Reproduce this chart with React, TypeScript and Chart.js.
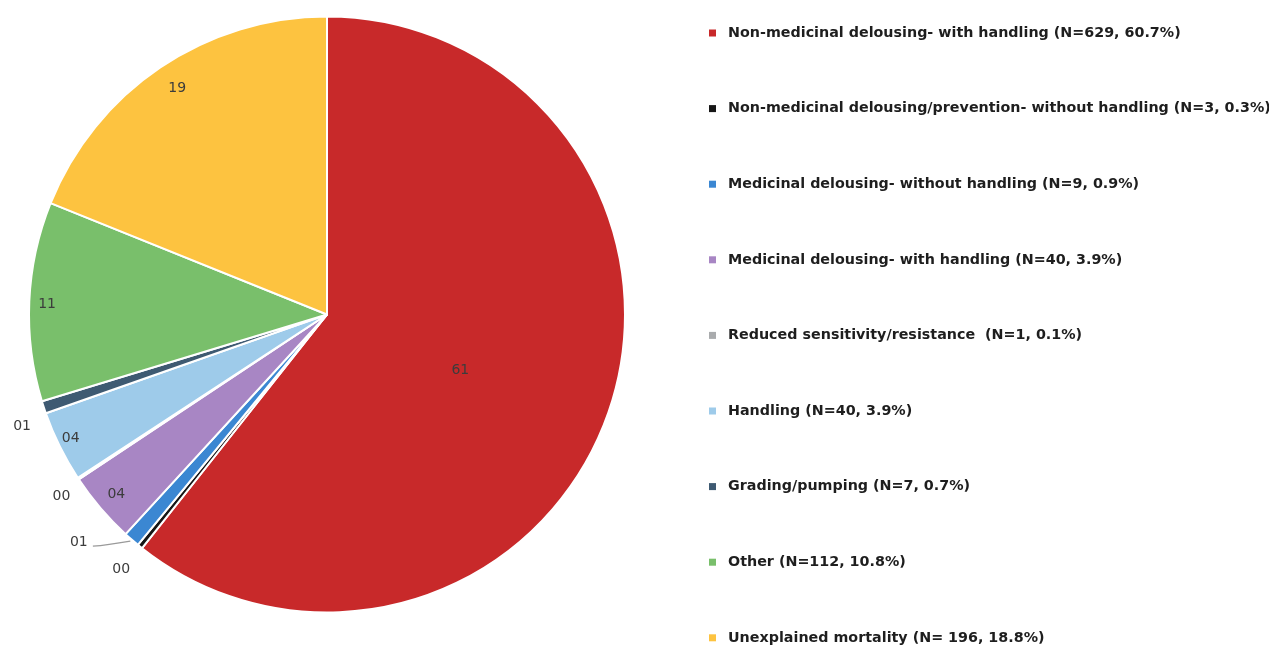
import React, { useEffect, useRef } from "react";
import { Chart, registerables } from "chart.js";

Chart.register(...registerables);

const categories = [
  "Non-medicinal delousing- with handling (N=629, 60.7%)",
  "Non-medicinal delousing/prevention- without handling (N=3, 0.3%)",
  "Medicinal delousing- without handling (N=9, 0.9%)",
  "Medicinal delousing- with handling (N=40, 3.9%)",
  "Reduced sensitivity/resistance  (N=1, 0.1%)",
  "Handling (N=40, 3.9%)",
  "Grading/pumping (N=7, 0.7%)",
  "Other (N=112, 10.8%)",
  "Unexplained mortality (N= 196, 18.8%)",
];
const counts = [629, 3, 9, 40, 1, 40, 7, 112, 196];
const colors = [
  "#C8292A",
  "#161616",
  "#3B87D2",
  "#A886C4",
  "#A9ABAD",
  "#9ECBEA",
  "#3E5A72",
  "#79BF6B",
  "#FDC340",
];

// label placement: radial factor and angular offset (degrees)
const labelPlacement = [
  { r: 0.485, off: 3.5 },
  { r: 1.1, off: 0 },
  { r: 1.13, off: 6.5 },
  { r: 0.93, off: 0 },
  { r: 1.08, off: -1 },
  { r: 0.955, off: 0.5 },
  { r: 1.09, off: -2 },
  { r: 0.94, off: -0.5 },
  { r: 0.91, off: 0.5 },
];

const labelPlugin = {
  id: "sliceLabels",
  afterDatasetsDraw(chart: any) {
    const ctx = chart.ctx;
    const meta = chart.getDatasetMeta(0);
    const data = chart.data.datasets[0].data as number[];
    const total = data.reduce((a, b) => a + b, 0);
    ctx.save();
    ctx.font = "14px 'DejaVu Sans'";
    ctx.fillStyle = "#3c3c3c";
    ctx.textAlign = "center";
    ctx.textBaseline = "middle";
    meta.data.forEach((arc: any, i: number) => {
      const p = labelPlacement[i];
      const mid = (arc.startAngle + arc.endAngle) / 2 + (p.off * Math.PI) / 180;
      const R = arc.outerRadius;
      const x = arc.x + Math.cos(mid) * R * p.r;
      const y = arc.y + Math.sin(mid) * R * p.r;
      const pct = Math.round((data[i] / total) * 100);
      const txt = String(pct).padStart(2, "0");
      ctx.fillText(txt, x, y);
      if (i === 2) {
        const am = (arc.startAngle + arc.endAngle) / 2;
        const ex = arc.x + Math.cos(am) * (R + 2);
        const ey = arc.y + Math.sin(am) * (R + 2);
        ctx.strokeStyle = "#9a9a9a";
        ctx.lineWidth = 1.2;
        ctx.beginPath();
        ctx.moveTo(x + 14, y + 4);
        ctx.quadraticCurveTo(x + 28, y + 3, ex, ey);
        ctx.stroke();
      }
    });
    ctx.restore();
  },
};

const legendPlugin = {
  id: "customLegend",
  afterDraw(chart: any) {
    const ctx = chart.ctx;
    const labels = chart.data.labels as string[];
    const bg = chart.data.datasets[0].backgroundColor as string[];
    ctx.save();
    ctx.font = "bold 14.3px 'DejaVu Sans'";
    ctx.textBaseline = "middle";
    ctx.textAlign = "left";
    const y0 = 33;
    const step = 75.6;
    labels.forEach((lab, i) => {
      const y = y0 + i * step;
      ctx.fillStyle = bg[i];
      ctx.fillRect(709, y - 3.5, 7, 7);
      ctx.fillStyle = "#1e1e1e";
      ctx.fillText(lab, 728, y);
    });
    ctx.restore();
  },
};

export default function App() {
  const ref = useRef<HTMLCanvasElement>(null);
  useEffect(() => {
    document.body.style.margin = "0";
    const chart = new Chart(ref.current!, {
      type: "pie",
      data: {
        labels: categories,
        datasets: [
          {
            data: counts,
            backgroundColor: colors,
            borderColor: "#ffffff",
            borderWidth: 2,
          },
        ],
      },
      options: {
        animation: false,
        responsive: false,
        maintainAspectRatio: false,
        layout: { padding: { left: 28, right: 1269 - 626, top: 15, bottom: 648 - 614 } },
        plugins: {
          legend: { display: false },
          tooltip: { enabled: false },
        },
      },
      plugins: [labelPlugin, legendPlugin],
    });
    return () => chart.destroy();
  }, []);
  return (
    <div style={{ width: 1269, height: 648, background: "#fff" }}>
      <canvas ref={ref} width={1269} height={648} style={{ display: "block" }} />
    </div>
  );
}
